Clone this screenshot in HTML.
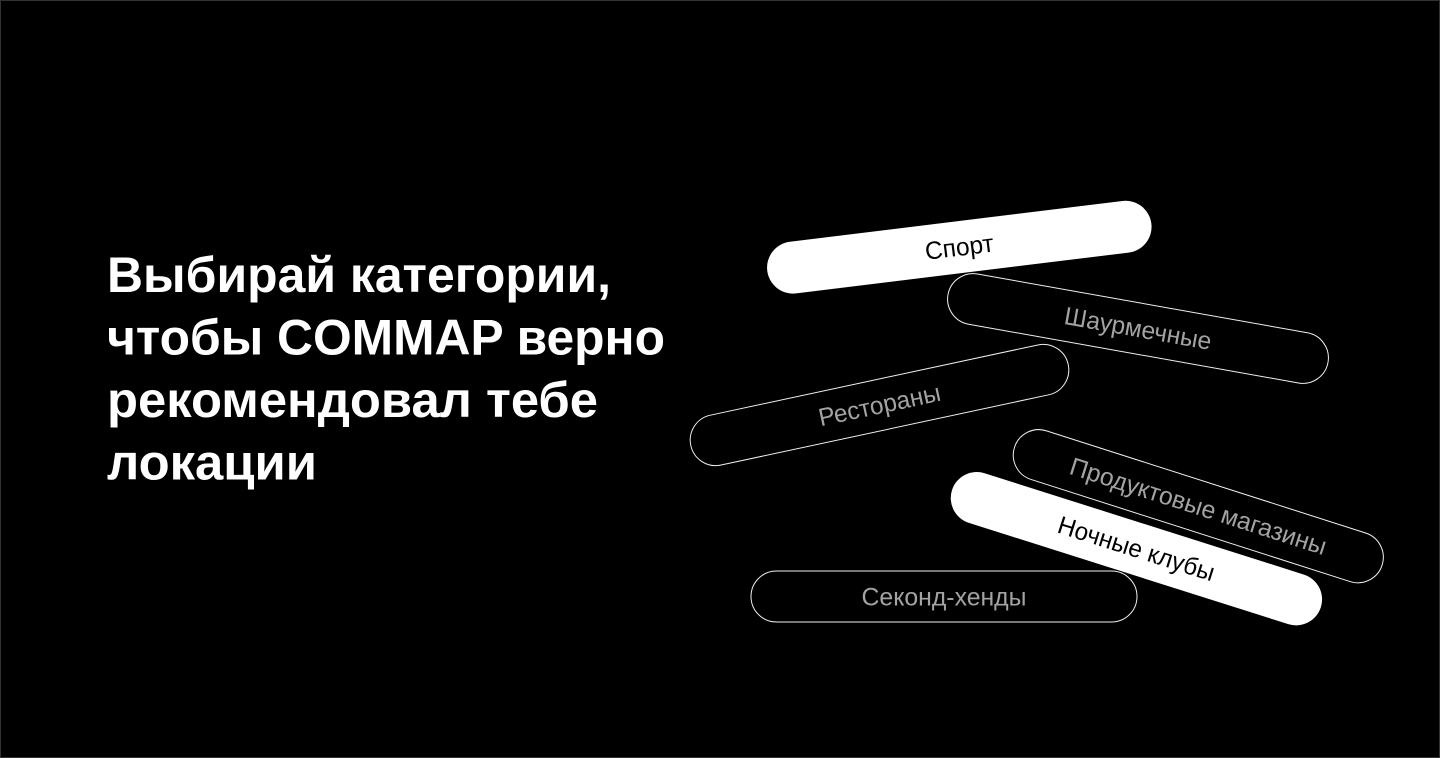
<!DOCTYPE html>
<html lang="ru">
<head>
<meta charset="utf-8">
<title>COMMAP</title>
<style>
html,body{margin:0;padding:0;width:1440px;height:758px;background:#000;overflow:hidden}
svg{display:block}
text{font-family:"Liberation Sans","Noto Sans CJK SC",sans-serif}
.h{font-size:50px;font-weight:700;fill:#fff}
.p{font-size:25px;text-anchor:middle}
.o{fill:none;stroke:#f0f0f0;stroke-width:1}
.w{fill:#fff}
.g{fill:#a3a3a3}
.k{fill:#000}
</style>
</head>
<body>
<svg width="1440" height="758" viewBox="0 0 1440 758" xmlns="http://www.w3.org/2000/svg">
<rect x="0" y="0" width="1440" height="758" fill="#000"/>
<rect x="0.5" y="0.5" width="1439" height="757" fill="none" stroke="#333" stroke-width="1"/>

<text class="h" x="107" y="292" textLength="504" lengthAdjust="spacingAndGlyphs">Выбирай категории,</text>
<text class="h" x="107" y="354.5" textLength="558" lengthAdjust="spacingAndGlyphs">чтобы COMMAP верно</text>
<text class="h" x="107" y="417" textLength="491" lengthAdjust="spacingAndGlyphs">рекомендовал тебе</text>
<text class="h" x="107" y="479.5" textLength="210" lengthAdjust="spacingAndGlyphs">локации</text>

<g transform="translate(1138 328.5) rotate(10.1)">
<rect class="o" x="-193" y="-25.5" width="386" height="51" rx="25.5"/>
<text class="p g" x="0" y="8.5" textLength="149" lengthAdjust="spacingAndGlyphs">Шаурмечные</text>
</g>
<g transform="translate(879.5 405) rotate(-12.1)">
<rect class="o" x="-193" y="-25.5" width="386" height="51" rx="25.5"/>
<text class="p g" x="0" y="8.5" textLength="124" lengthAdjust="spacingAndGlyphs">Рестораны</text>
</g>
<g transform="translate(1198.3 506.2) rotate(17.75)">
<rect class="o" x="-193" y="-25.5" width="386" height="51" rx="25.5"/>
<text class="p g" x="0" y="8.5" textLength="268" lengthAdjust="spacingAndGlyphs">Продуктовые магазины</text>
</g>
<g transform="translate(944 596.5)">
<rect class="o" x="-193" y="-25.5" width="386" height="51" rx="25.5"/>
<text class="p g" x="0" y="9" textLength="165" lengthAdjust="spacingAndGlyphs">Секонд-хенды</text>
</g>
<g transform="translate(959.3 247.2) rotate(-7)">
<rect class="w" x="-193.5" y="-26" width="387" height="52" rx="26"/>
<text class="p k" x="0" y="8.5" textLength="69" lengthAdjust="spacingAndGlyphs">Спорт</text>
</g>
<g transform="translate(1136.4 548.7) rotate(17.6)">
<rect class="w" x="-193.5" y="-26" width="387" height="52" rx="26"/>
<text class="p k" x="0" y="8.5" textLength="163" lengthAdjust="spacingAndGlyphs">Ночные клубы</text>
</g>
</svg>
</body>
</html>
